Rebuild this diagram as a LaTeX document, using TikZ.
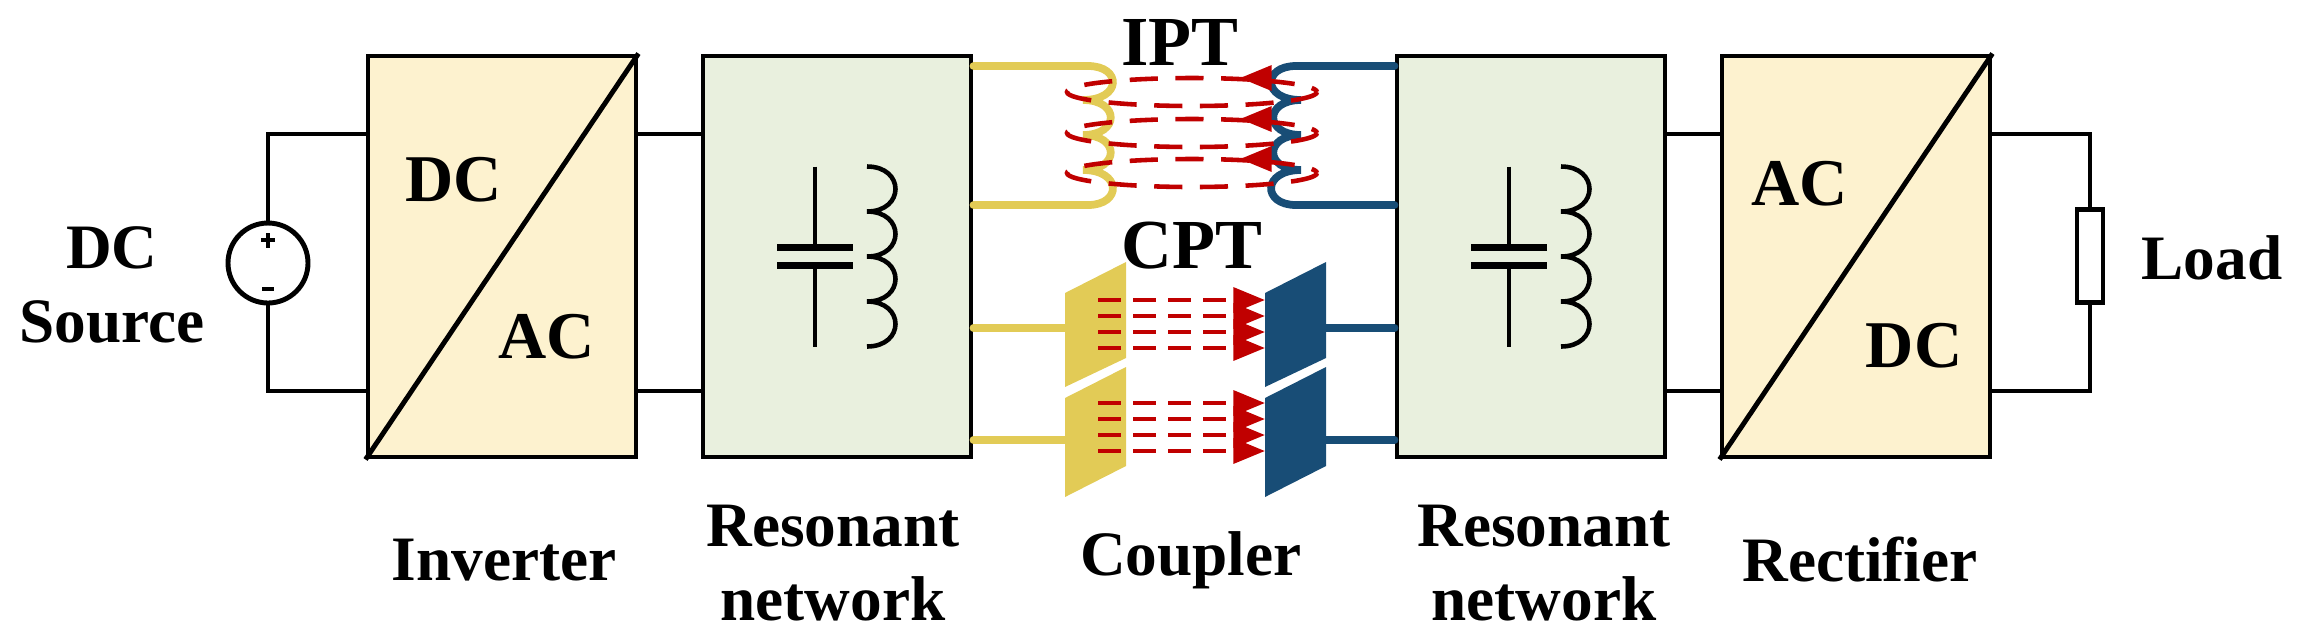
\documentclass[tikz,border=0pt]{standalone}
\usepackage{fontspec}
\setmainfont{Liberation Serif}
\usetikzlibrary{arrows.meta,calc}
\definecolor{boxy}{HTML}{FDF2CF}
\definecolor{boxg}{HTML}{E9F0DE}
\definecolor{coily}{HTML}{E2CB56}
\definecolor{coilb}{HTML}{184D76}
\definecolor{flux}{HTML}{C00000}
\begin{document}
\begin{tikzpicture}[x=0.1mm,y=-0.1mm,
  blk/.style={draw,line width=1.4pt,minimum width=26.8mm,minimum height=40.1mm,inner sep=0},
  wire/.style={line width=1.4pt},
  lbl/.style={font=\fontsize{18}{21}\selectfont\bfseries,align=center},
  cw/.style={line width=2.2pt,line cap=round},
  fl/.style={flux,line width=1.3pt,dash pattern=on 8pt off 5pt},
  ca/.style={flux,line width=1.3pt,dash pattern=on 6.5pt off 3.5pt,-{Triangle[length=9pt,width=7pt]}},
  lc/.pic={
    \draw[line width=1.2pt] (-22,-90)--(-22,-9) (-22,9)--(-22,90);
    \draw[line width=2pt] (-60,-9)--(16,-9) (-60,9)--(16,9);
    \draw[line width=1.3pt] (30,-90) .. controls (68,-90) and (68,-45) .. (30,-45)
      .. controls (68,-45) and (68,0) .. (30,0)
      .. controls (68,0) and (68,45) .. (30,45)
      .. controls (68,45) and (68,90) .. (30,90);
  }]
\useasboundingbox (0,0) rectangle (2303,642);
% boxes
\node[blk,fill=boxy] (inv) at (502,256.5) {};
\node[blk,fill=boxg] (rn1) at (837,256.5) {};
\node[blk,fill=boxg] (rn2) at (1531,256.5) {};
\node[blk,fill=boxy] (rec) at (1856,256.5) {};
\draw[wire] (inv.south west)--(inv.north east);
\draw[wire] (rec.south west)--(rec.north east);
\pic at (rn1) {lc};
\pic at (rn2) {lc};
\node[lbl,font=\fontsize{19}{22}\selectfont\bfseries] (invdc) at (454,180) {DC};
\node[lbl,font=\fontsize{19}{22}\selectfont\bfseries] (invac) at (547,337) {AC};
\node[lbl,font=\fontsize{19}{22}\selectfont\bfseries] (recac) at (1800,184) {AC};
\node[lbl,font=\fontsize{19}{22}\selectfont\bfseries] (recdc) at (1914,346) {DC};
% source
\node[draw,circle,line width=1.4pt,minimum size=8mm,inner sep=0] (src) at (268,263) {};
\draw[line width=1.4pt] (268,233)--(268,248) (261,240)--(275,240) (262,289)--(274,289);
\coordinate (st) at (268,134); \coordinate (sb) at (268,391);
\draw[wire] (src.north)--(st)--(inv.west |- st);
\draw[wire] (src.south)--(sb)--(inv.west |- sb);
\draw[wire] (inv.east |- st)--(rn1.west |- st);
\draw[wire] (inv.east |- sb)--(rn1.west |- sb);
\draw[wire] (rn2.east |- st)--(rec.west |- st);
\draw[wire] (rn2.east |- sb)--(rec.west |- sb);
% load
\node[draw,line width=1.3pt,minimum width=2.6mm,minimum height=9.3mm,inner sep=0] (load) at (2090,256) {};
\coordinate (lt) at (2090,134); \coordinate (lb) at (2090,391);
\draw[wire] (rec.east |- st)--(lt)--(load.north);
\draw[wire] (rec.east |- sb)--(lb)--(load.south);
% IPT coils
\draw[cw,coily] (rn1.east |- 0,66) -- (1088,66) .. controls (1122,66) and (1122,100) .. (1083,100)
  .. controls (1120,100) and (1120,135) .. (1083,135)
  .. controls (1120,135) and (1120,170) .. (1083,170)
  .. controls (1122,170) and (1122,205) .. (1088,205) -- (rn1.east |- 0,205);
\draw[cw,coilb] (rn2.west |- 0,66) -- (1296,66) .. controls (1262,66) and (1262,100) .. (1301,100)
  .. controls (1264,100) and (1264,135) .. (1301,135)
  .. controls (1264,135) and (1264,170) .. (1301,170)
  .. controls (1262,170) and (1262,205) .. (1296,205) -- (rn2.west |- 0,205);
\foreach \yy in {92,133,173}{
  \draw[fl] (1192,\yy) ellipse [x radius=125, y radius=14];
  \draw[flux,line width=1.3pt,-{Triangle[length=9pt,width=7pt]}] (1265,\yy-14)--(1240,\yy-14);
}
\node[lbl,font=\fontsize{20}{22}\selectfont\bfseries] (ipt) at (1180,42) {IPT};
\node[lbl,font=\fontsize{20}{22}\selectfont\bfseries] (cpt) at (1192,246) {CPT};
% CPT plates
\coordinate (py1) at (1065,328); \coordinate (py2) at (1065,440);
\coordinate (pb1) at (1326,328); \coordinate (pb2) at (1326,440);
\draw[cw,coily] (rn1.east |- py1)--(py1);
\draw[cw,coily] (rn1.east |- py2)--(py2);
\draw[cw,coilb] (rn2.west |- pb1)--(pb1);
\draw[cw,coilb] (rn2.west |- pb2)--(pb2);
\fill[coily] (1065,293)--(1126,262)--(1126,358)--(1065,387)--cycle;
\fill[coily] (1065,398)--(1126,367)--(1126,466)--(1065,497)--cycle;
\fill[coilb] (1265,293)--(1326,262)--(1326,358)--(1265,387)--cycle;
\fill[coilb] (1265,398)--(1326,367)--(1326,466)--(1265,497)--cycle;
\foreach \yy in {300,316,332,348,403,419,435,451}{
  \draw[ca] (1098,\yy)--(1265,\yy);
}
% labels
\node[lbl] (dcs) at (112,285) {DC\\Source};
\node[lbl] (l1) at (504,560) {Inverter};
\node[lbl] (l2) at (833,563) {Resonant\\network};
\node[lbl] (l3) at (1191,560) {Coupler};
\node[lbl] (l4) at (1544,563) {Resonant\\network};
\node[lbl] (l5) at (1860,560) {Rectifier};
\node[lbl] (l6) at (2212,258) {Load};
\end{tikzpicture}
\end{document}
